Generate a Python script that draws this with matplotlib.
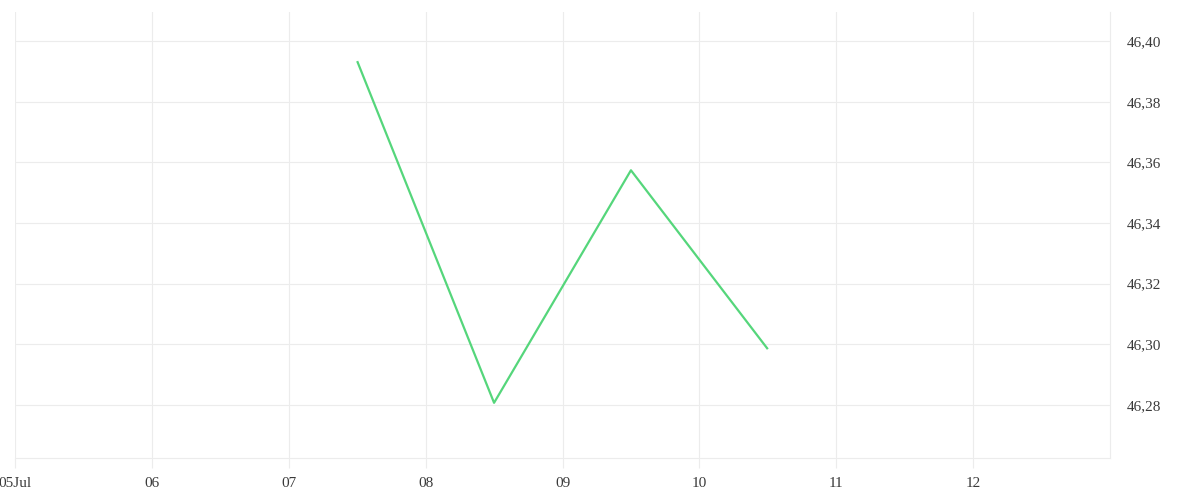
import numpy as np
import pandas as pd
import matplotlib
matplotlib.use("Agg")
import matplotlib.pyplot as plt
import matplotlib.dates as mdates

# data
times = pd.to_datetime(["2024-07-07 12:00", "2024-07-08 12:00",
                        "2024-07-09 12:00", "2024-07-10 12:00"])
values = [46.3934, 46.2807, 46.3574, 46.2984]

tick_days = pd.date_range("2024-07-05", "2024-07-12", freq="D")
tick_labels = ["05Jul", "06", "07", "08", "09", "10", "11", "12"]
y_ticks = [46.28, 46.30, 46.32, 46.34, 46.36, 46.38, 46.40]

grid_col = "#ececec"
text_col = "#3a3a3a"

plt.rcParams["font.family"] = ["Liberation Serif", "DejaVu Serif"]

fig = plt.figure(figsize=(12, 5), dpi=100)
ax = fig.add_axes([0.0125, 0.084, 0.9125, 0.892])

ax.plot(times, values, color="#55d67b", linewidth=1.6, solid_capstyle="butt")

ax.set_xlim(pd.Timestamp("2024-07-05"), pd.Timestamp("2024-07-13"))
ax.set_ylim(46.2625, 46.4096)

ax.set_xticks(tick_days)
ax.set_xticklabels(tick_labels)
ax.set_yticks(y_ticks)
ax.set_yticklabels([f"{v:.2f}".replace(".", ",") for v in y_ticks])

ax.yaxis.tick_right()
ax.grid(True, color=grid_col, linewidth=0.8)
ax.set_axisbelow(True)

for side in ["top", "left"]:
    ax.spines[side].set_visible(False)
ax.spines["bottom"].set_color(grid_col)
ax.spines["right"].set_color(grid_col)

ax.tick_params(axis="x", length=7, color=grid_col, labelsize=11,
               labelcolor=text_col, pad=7)
ax.tick_params(axis="y", length=0, labelsize=11, labelcolor=text_col, pad=12)

fig.savefig("out.png", dpi=100, facecolor="white")
